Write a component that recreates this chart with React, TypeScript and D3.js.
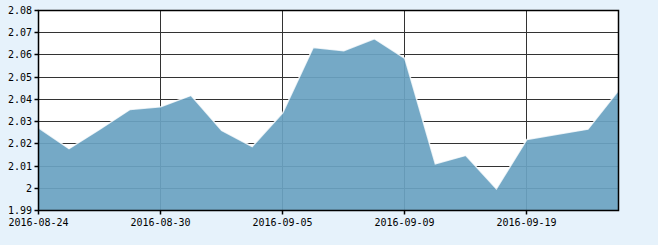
import React from "react";
import * as d3 from "d3";

const dates = [
  "2016-08-24", "2016-08-25", "2016-08-26", "2016-08-29", "2016-08-30",
  "2016-08-31", "2016-09-01", "2016-09-02", "2016-09-05", "2016-09-06",
  "2016-09-07", "2016-09-08", "2016-09-09", "2016-09-12", "2016-09-13",
  "2016-09-14", "2016-09-19", "2016-09-20", "2016-09-21", "2016-09-22",
];
const values = [
  2.0272, 2.0178, 2.0265, 2.0355, 2.0367, 2.0418, 2.026, 2.0188, 2.034, 2.0634,
  2.0619, 2.0673, 2.0585, 2.011, 2.0148, 1.9998, 2.022, 2.0243, 2.0266, 2.044,
];
const yTicks = [1.99, 2.0, 2.01, 2.02, 2.03, 2.04, 2.05, 2.06, 2.07, 2.08];
const xTickLabels = ["2016-08-24", "2016-08-30", "2016-09-05", "2016-09-09", "2016-09-19"];

const W = 658;
const H = 245;
const L = 38.5;
const R = 618.5;
const T = 10.5;
const B = 210.5;

function fmtY(v: number): string {
  const s = d3.format(".2f")(v);
  if (s === "2.00") return "2";
  return s;
}

export default function App() {
  const x = d3.scalePoint<string>().domain(dates).range([L, R]);
  const y = d3.scaleLinear().domain([1.99, 2.08]).range([B, T]);
  const data = dates.map((d, i) => ({ d, v: values[i] }));
  const area = d3
    .area<{ d: string; v: number }>()
    .x((p) => x(p.d) as number)
    .y0(B)
    .y1((p) => y(p.v));
  const line = d3
    .line<{ d: string; v: number }>()
    .x((p) => x(p.d) as number)
    .y((p) => y(p.v));
  const font = "'DejaVu Sans Mono', monospace";
  const ry = (t: number) => Math.floor(y(t)) + 0.5;
  const rx = (d: string) => Math.floor(x(d) as number) + 0.5;
  return (
    <svg
      width={W}
      height={H}
      style={{ position: "absolute", left: 0, top: 0, display: "block" }}
    >
      <rect x={0} y={0} width={W} height={H} fill="#e6f2fb" />
      <rect x={L} y={T} width={R - L} height={B - T} fill="#ffffff" />
      {yTicks.map((t) => (
        <line key={"h" + t} x1={L} x2={R} y1={ry(t)} y2={ry(t)} stroke="#333" strokeWidth={1} />
      ))}
      {xTickLabels.map((d) => (
        <line key={"v" + d} x1={rx(d)} x2={rx(d)} y1={T} y2={B} stroke="#333" strokeWidth={1} />
      ))}
      <path d={area(data) || ""} fill="#6aa2c2" fillOpacity={0.93} />
      <path d={line(data) || ""} fill="none" stroke="#ffffff" strokeWidth={1.5} strokeOpacity={0.8} />
      <rect x={L} y={T} width={R - L} height={B - T} fill="none" stroke="#000" strokeWidth={1.5} />
      {yTicks.map((t) => (
        <g key={"yt" + t}>
          <line x1={L - 4} x2={L} y1={ry(t)} y2={ry(t)} stroke="#000" strokeWidth={1.5} />
          <text
            x={32}
            y={ry(t)}
            dy="0.35em"
            textAnchor="end"
            fontFamily={font}
            fontSize={10}
            fill="#000"
          >
            {fmtY(t)}
          </text>
        </g>
      ))}
      {xTickLabels.map((d) => (
        <g key={"xt" + d}>
          <line x1={rx(d)} x2={rx(d)} y1={B} y2={B + 4} stroke="#000" strokeWidth={1.5} />
          <text
            x={rx(d)}
            y={222}
            dy="0.35em"
            textAnchor="middle"
            fontFamily={font}
            fontSize={10}
            fill="#000"
          >
            {d}
          </text>
        </g>
      ))}
    </svg>
  );
}
